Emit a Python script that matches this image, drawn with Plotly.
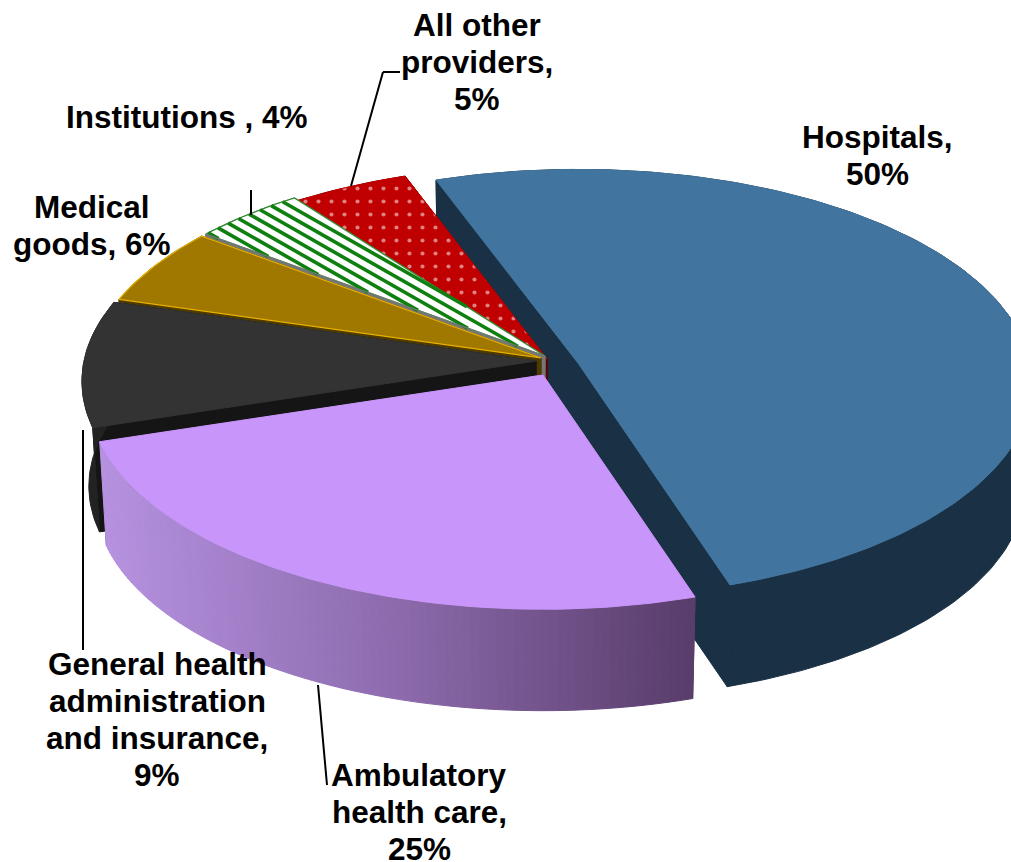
import math
import numpy as np
import plotly.graph_objects as go

# ---- data ----
categories = ["Hospitals", "Ambulatory health care", "General health administration and insurance",
              "Medical goods", "Institutions", "All other providers"]
values = [50.4, 24.9, 9.49, 5.8, 4.4, 4.6]
label_lines = [["Hospitals,", "{}%"], ["Ambulatory", "health care,", "{}%"],
               ["General health", "administration", "and insurance,", "{}%"],
               ["Medical", "goods, {}%"], ["Institutions , {}%"], ["All other", "providers,", "{}%"]]

# ---- styles ----
top_colors = ["#41759f", "#c896fa", "#333333", "#a07800", "#ffffff", "#c00000"]
cut_colors = ["#1a3044", "#5a3e6e", "#151515", "#4d3b00", "#777777", "#5c0000"]
wall_colors = ["#1a3044", None, "#222222", "#4d3b00", "#777777", "#5c0000"]
edge_colors = [None, None, None, "#e8b000", "#2e8b2e", None]
offsets = [(38, -7), (3, 5), (-4, -9), (1, -12), (5, -14), (7, -11)]
label_pos = [(877, 155), (419, 812), (157, 719), (92, 225), (187, 117), (477, 62)]
LINE_STEP = 37
leaders = [[(383, 72), (400, 72)], [(383, 72), (351, 186)], [(251, 190), (251, 215)],
           [(83, 430), (83, 650)], [(318, 685), (327, 785)]]

CX, CY, RX, RY, P, DEPTH, SHRINK = 540, 370, 452, 212, 0.095, 105, 0.985
START = -20.0

STRIPE_SLOPE, STRIPE_STEP = 0.57, 10.5


def project(theta_deg, r, off):
    a = np.radians(theta_deg)
    u, v = r * np.sin(a), -r * np.cos(a)
    w = 1 - P * v
    return CX + off[0] + RX * u / w, CY + off[1] + RY * v / w


def lower(x, y):
    return CX + (x - CX) * SHRINK, CY + (y - CY) * SHRINK + DEPTH


def poly(fig, xs, ys, color, line=None, pattern=None):
    fig.add_trace(go.Scatter(
        x=list(xs) + [xs[0]], y=list(ys) + [ys[0]], mode="lines", fill="toself",
        fillcolor=color, fillpattern=pattern,
        line=dict(color=line or color, width=1.2 if line else 1),
        hoverinfo="skip", showlegend=False))


def lerp_color(t):
    stops = [(0.0, (182, 146, 224)), (0.5, (140, 106, 172)), (1.0, (88, 60, 106))]
    for (t0, c0), (t1, c1) in zip(stops, stops[1:]):
        if t <= t1:
            f = (t - t0) / (t1 - t0)
            return "rgb({},{},{})".format(*[round(a + (b - a) * f) for a, b in zip(c0, c1)])
    return "rgb(88,60,106)"


def stripes(fig, px, py, color):
    """Parallel hatch lines clipped to a convex polygon."""
    px, py = np.asarray(px), np.asarray(py)
    cs = py - STRIPE_SLOPE * px
    for c in np.arange(cs.min(), cs.max(), STRIPE_STEP):
        hits = []
        for j in range(len(px)):
            x0, y0, x1, y1 = px[j], py[j], px[(j + 1) % len(px)], py[(j + 1) % len(px)]
            d0, d1 = y0 - STRIPE_SLOPE * x0 - c, y1 - STRIPE_SLOPE * x1 - c
            if d0 * d1 < 0:
                f = d0 / (d0 - d1)
                hits.append((x0 + (x1 - x0) * f, y0 + (y1 - y0) * f))
        if len(hits) >= 2:
            hits.sort()
            fig.add_trace(go.Scatter(x=[hits[0][0], hits[-1][0]], y=[hits[0][1], hits[-1][1]],
                                     mode="lines", line=dict(color=color, width=3.6),
                                     hoverinfo="skip", showlegend=False))


fig = go.Figure()
total = sum(values)
spans = []
ang = START
for val in values:
    spans.append((ang, ang + val / total * 360))
    ang = spans[-1][1]

patterns = {5: dict(shape=".", bgcolor="#c00000", fgcolor="#ffffff", size=13, solidity=0.08)}

for i in [0, 5, 4, 3, 2, 1]:
    a0, a1 = spans[i]
    off = offsets[i]
    thetas = np.linspace(a0, a1, max(6, int(a1 - a0)))
    ax, ay = project(0.0, 0.0, off)
    bx, by = lower(ax, ay)
    # cut faces
    for edge in (a0, a1):
        ex, ey = project(edge, 1.0, off)
        fx, fy = lower(ex, ey)
        poly(fig, [ax, ex, fx, bx], [ay, ey, fy, by], cut_colors[i])
    # outer wall
    xs, ys = project(thetas, 1.0, off)
    lxs, lys = lower(xs, ys)
    if wall_colors[i] is not None:
        poly(fig, list(xs) + list(lxs[::-1]), list(ys) + list(lys[::-1]), wall_colors[i])
    else:
        n = len(xs)
        for k in range(n - 1):
            xa = 0.5 * (xs[k] + xs[k + 1])
            t = 1 - (xs[0] - xa) / (xs[0] - xs[-1])
            poly(fig, [xs[k], xs[k + 1], lxs[k + 1], lxs[k]], [ys[k], ys[k + 1], lys[k + 1], lys[k]],
                 lerp_color(t))
    # top face
    poly(fig, [ax] + list(xs), [ay] + list(ys), top_colors[i], line=edge_colors[i],
         pattern=patterns.get(i))
    if i == 4:
        stripes(fig, [ax] + list(xs), [ay] + list(ys), "#0f7f0f")
        poly(fig, [ax, xs[0]], [ay, ys[0]], "#777777", line="#777777")

for seg in leaders:
    fig.add_shape(type="line", x0=seg[0][0], y0=seg[0][1], x1=seg[1][0], y1=seg[1][1],
                  line=dict(color="#000000", width=2), layer="above")

for lines, val, (lx, ly) in zip(label_lines, values, label_pos):
    first = ly - LINE_STEP * (len(lines) - 1) / 2
    for n, line_text in enumerate(lines):
        fig.add_annotation(x=lx, y=first + n * LINE_STEP, text="<b>" + line_text.format(round(val)) + "</b>",
                           showarrow=False, xanchor="center", yanchor="middle", align="center",
                           font=dict(family="Liberation Sans, Arial, sans-serif", size=31.5, color="#000000"))

fig.update_layout(
    width=1011, height=862, margin=dict(l=0, r=0, t=0, b=0),
    paper_bgcolor="#ffffff", plot_bgcolor="#ffffff", showlegend=False,
    xaxis=dict(range=[0, 1011], visible=False, fixedrange=True),
    yaxis=dict(range=[862, 0], visible=False, fixedrange=True),
)
fig.write_html("out.html", config=dict(displayModeBar=False),
               post_script="document.body.style.margin='0';document.body.style.overflow='hidden';")
